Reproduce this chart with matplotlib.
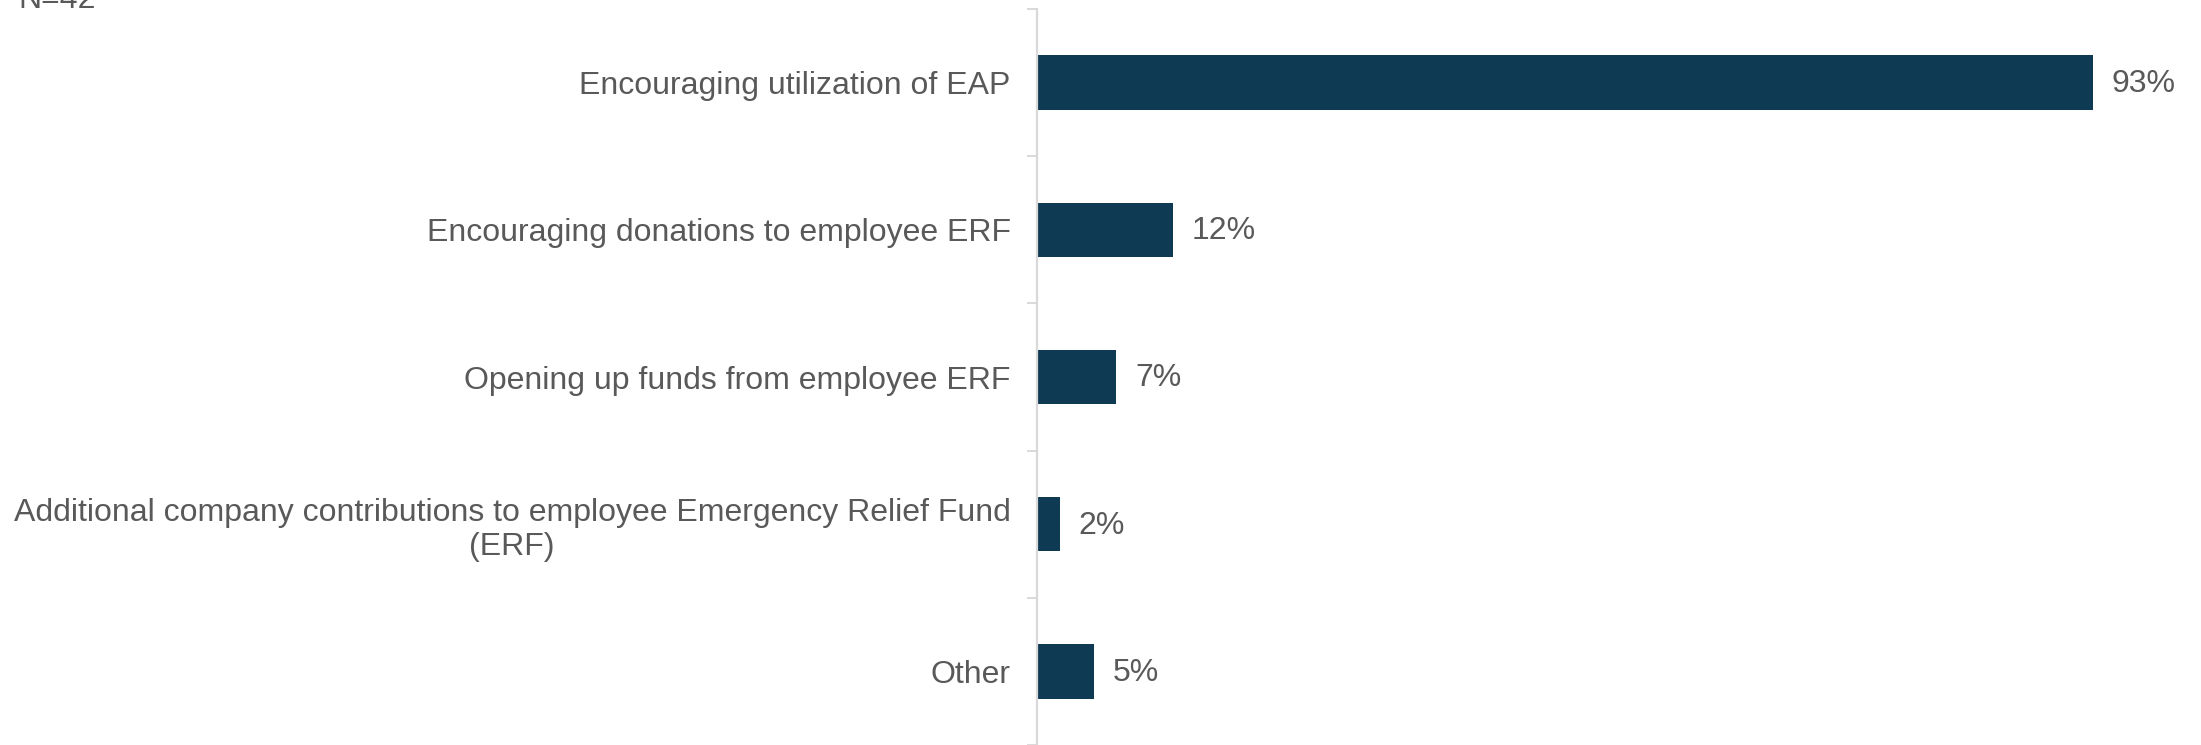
import numpy as np
import matplotlib; matplotlib.use('Agg')
import matplotlib.pyplot as plt

# ─── Data ───
categories = [
    'Encouraging utilization of EAP',
    'Encouraging donations to employee ERF',
    'Opening up funds from employee ERF',
    'Additional company contributions to employee Emergency Relief Fund\n(ERF)',
    'Other',
]
values = [93, 12, 7, 2, 5]
sample_note = 'N=42'

BAR = '#0E3A53'
TEXT = '#595959'
GRID = '#D9D9D9'
FS = 23

plt.rcParams['font.family'] = ['Liberation Sans', 'DejaVu Sans']

W, H, DPI = 2201, 745, 100
fig = plt.figure(figsize=(W / DPI, H / DPI), dpi=DPI)
# axes placed in pixel terms: y-axis line at ~1037px, top tick at ~9px
ax = fig.add_axes([1037 / W, 0.0, 1135 / W, 736 / H])

y = np.arange(len(categories))
ax.barh(y, values, height=0.37, color=BAR, zorder=2)

ax.set_xlim(0, 100)
ax.set_ylim(len(categories) - 0.5, -0.5)

for sp in ('top', 'right', 'bottom'):
    ax.spines[sp].set_visible(False)
ax.spines['left'].set_color(GRID)
ax.spines['left'].set_linewidth(1.6)
ax.xaxis.set_visible(False)

# labels on major ticks, small boundary ticks between categories
ax.set_yticks(y)
ax.set_yticklabels(categories, fontsize=FS, color=TEXT, multialignment='center')
ax.tick_params(axis='y', which='major', length=0, pad=19)
ax.set_yticks(np.arange(-0.5, len(categories), 1.0), minor=True)
ax.tick_params(axis='y', which='minor', length=7.2, width=1.4, color=GRID)

for yi, v in zip(y, values):
    ax.annotate(f'{v}%', xy=(v, yi), xytext=(13.5, -1), textcoords='offset points',
                va='center', ha='left', fontsize=FS, color=TEXT)

# sample size note sits at the very top edge
fig.text(18 / W, 1 - 8 / H, sample_note, fontsize=FS, color=TEXT,
         ha='left', va='baseline')

fig.savefig('out.png', dpi=DPI)
